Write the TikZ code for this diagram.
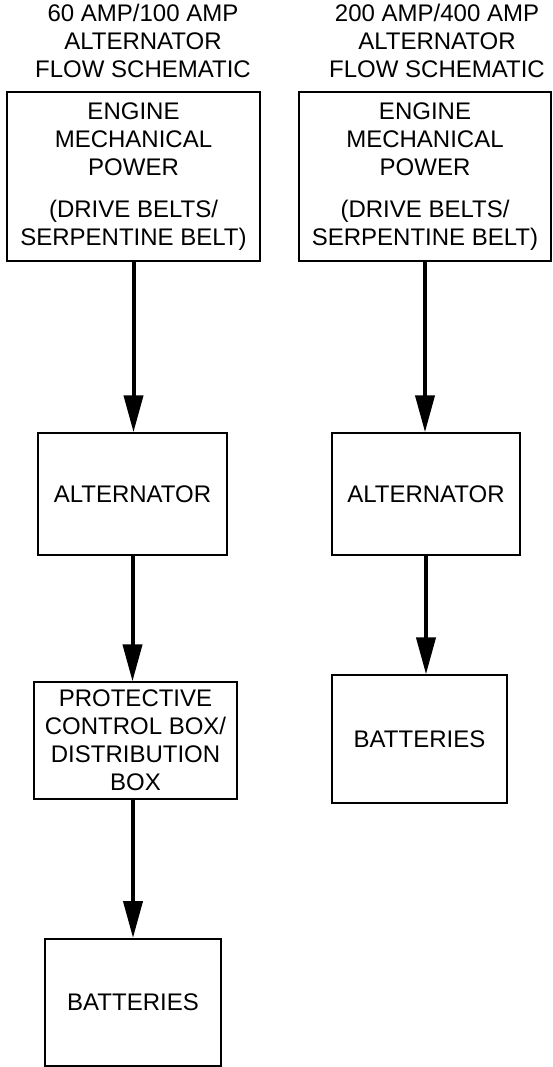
\documentclass[tikz,border=0pt]{standalone}
\usepackage{fontspec}
\setmainfont{Liberation Sans}
\usetikzlibrary{arrows.meta,positioning}

\begin{document}
\begin{tikzpicture}[
  x=1pt, y=1pt,
  box/.style={rectangle, draw=black, line width=1.6pt, inner sep=0pt,
              align=center, font=\fontsize{24}{28}\selectfont},
  heading/.style={inner sep=0pt, align=center, font=\fontsize{24}{28}\selectfont},
  arr/.style={-{Triangle[length=37pt,width=19pt]}, line width=4pt, black}
]
\useasboundingbox (0,0) rectangle (553,-1067);

\node[box, minimum width=253pt, minimum height=169pt] (engL) at (133.5,-176.5)
  {ENGINE\\MECHANICAL\\POWER\\[14pt](DRIVE BELTS/\\SERPENTINE BELT)};
\node[box, minimum width=189pt, minimum height=122pt, below=170.5pt of engL, xshift=-1pt] (altL) {ALTERNATOR};
\node[box, minimum width=203pt, minimum height=117pt, below=125.5pt of altL, xshift=3pt] (protL)
  {PROTECTIVE\\CONTROL BOX/\\DISTRIBUTION\\BOX};
\node[box, minimum width=176pt, minimum height=127pt, below=138pt of protL, xshift=-2.5pt] (batL) {BATTERIES};

\node[box, minimum width=252pt, minimum height=169pt] (engR) at (425,-176.5)
  {ENGINE\\MECHANICAL\\POWER\\[14pt](DRIVE BELTS/\\SERPENTINE BELT)};
\node[box, minimum width=188pt, minimum height=122pt, below=170.5pt of engR, xshift=1pt] (altR) {ALTERNATOR};
\node[box, minimum width=175pt, minimum height=128pt, below=118.5pt of altR, xshift=-6.5pt] (batR) {BATTERIES};

\node[heading, above=13pt of engL, xshift=9.5pt] (headL) {60 AMP/100 AMP\\ALTERNATOR\\FLOW SCHEMATIC};
\node[heading, above=13pt of engR, xshift=12pt] (headR) {200 AMP/400 AMP\\ALTERNATOR\\FLOW SCHEMATIC};

\draw[arr] (engL.south) -- (engL.south |- altL.north);
\draw[arr] (altL.south) -- (altL.south |- protL.north);
\draw[arr] (batL.north |- protL.south) -- (batL.north);

\draw[arr] (engR.south) -- (engR.south |- altR.north);
\draw[arr] (altR.south) -- (altR.south |- batR.north);
\end{tikzpicture}
\end{document}
